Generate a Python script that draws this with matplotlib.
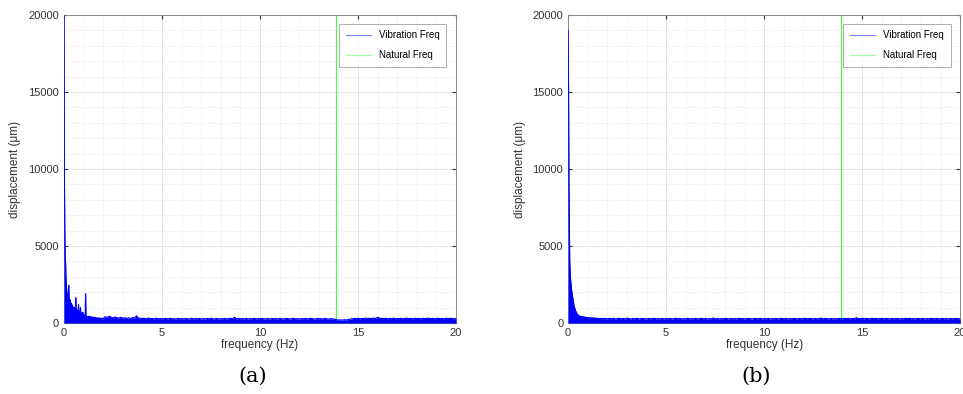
import numpy as np
import matplotlib
matplotlib.use('Agg')
from matplotlib import pyplot as plt
from matplotlib.ticker import MultipleLocator

plt.rcParams['font.family'] = ['Liberation Sans', 'DejaVu Sans']

# 频率网格：0-2 Hz 每 0.02 Hz，2.1-20 Hz 每 0.1 Hz
low_freq = np.round(np.arange(0, 2.001, 0.02), 2)
high_freq = np.round(np.arange(2.1, 20.001, 0.1), 1)

natural_freq = 13.9

# (a) 低频段幅值
low_amp_a = [20000, 9300, 6000, 4200, 3900, 2800, 2400, 2100, 1800, 1900,
             1500, 1700, 2450, 1400, 1600, 1200, 1500, 1100, 1300, 1000,
             1200, 900, 1100, 800, 1000, 900, 750, 1000, 700, 1100,
             1650, 700, 900, 650, 800, 600, 850, 1200, 600, 750,
             550, 700, 1000, 550, 650, 500, 600, 450, 700, 450,
             550, 450, 500, 400, 480, 1900, 420, 450, 380, 430,
             400, 380, 450, 360, 420, 350, 400, 340, 420, 330,
             380, 320, 400, 330, 370, 310, 380, 300, 360, 300,
             350, 290, 340, 300, 330, 280, 340, 290, 320, 280,
             330, 270, 310, 280, 320, 260, 300, 270, 310, 260,
             300]
# (a) 2.1-20 Hz 底噪
high_amp_a = [420, 360, 450, 380, 340, 400, 350, 330, 380, 320,
              350, 300, 340, 310, 360, 330, 480, 300, 320, 290,
              310, 280, 330, 290, 300, 270, 320, 280, 300, 270,
              290, 300, 270, 310, 280, 290, 260, 300, 280, 290,
              270, 300, 280, 260, 310, 270, 290, 280, 300, 260,
              290, 270, 300, 280, 320, 270, 280, 300, 260, 290,
              280, 300, 270, 290, 310, 280, 380, 270, 300, 280,
              290, 270, 300, 260, 290, 280, 310, 270, 290, 280,
              300, 270, 280, 290, 260, 300, 280, 290, 270, 300,
              280, 260, 290, 300, 270, 280, 310, 270, 290, 260,
              290, 280, 300, 270, 290, 310, 280, 260, 300, 280,
              290, 270, 300, 280, 260, 290, 270, 250, 220, 200,
              210, 190, 220, 200, 230, 260, 280, 300, 290, 310,
              280, 300, 290, 320, 300, 310, 290, 330, 300, 380,
              320, 300, 290, 310, 280, 300, 290, 320, 280, 300,
              290, 310, 280, 300, 320, 290, 300, 280, 310, 290,
              300, 280, 310, 290, 300, 320, 290, 310, 280, 300,
              310, 290, 300, 280, 320, 290, 310, 300, 280, 300]

# (b) 低频段幅值
low_amp_b = [19000, 15300, 9000, 6200, 4000, 3400, 2900, 2600, 2300, 2100,
             1900, 1750, 1600, 1400, 1300, 1150, 1050, 950, 900, 800,
             750, 680, 640, 600, 560, 540, 510, 490, 470, 450,
             460, 420, 440, 410, 430, 400, 420, 390, 410, 380,
             400, 370, 390, 360, 380, 350, 370, 340, 360, 330,
             350, 330, 360, 320, 340, 330, 310, 350, 320, 330,
             310, 340, 300, 330, 310, 320, 300, 330, 290, 320,
             300, 310, 290, 320, 300, 310, 280, 310, 290, 300,
             280, 310, 290, 300, 280, 300, 270, 300, 290, 280,
             300, 270, 290, 280, 300, 270, 290, 280, 270, 290,
             280]
# (b) 2.1-20 Hz 底噪
high_amp_b = [300, 280, 320, 270, 290, 310, 280, 300, 270, 330,
              290, 270, 300, 280, 310, 270, 290, 300, 280, 270,
              300, 280, 290, 310, 270, 290, 280, 300, 270, 290,
              280, 300, 270, 290, 320, 280, 300, 270, 290, 280,
              310, 270, 290, 280, 300, 270, 290, 310, 280, 300,
              270, 290, 280, 330, 280, 300, 270, 290, 280, 300,
              290, 270, 300, 280, 290, 270, 310, 280, 300, 270,
              290, 300, 280, 270, 300, 290, 280, 310, 270, 290,
              280, 300, 270, 290, 280, 300, 270, 290, 310, 280,
              300, 270, 290, 280, 300, 290, 270, 300, 280, 290,
              310, 280, 300, 290, 270, 300, 280, 290, 330, 280,
              300, 290, 280, 300, 270, 290, 280, 300, 290, 280,
              300, 290, 310, 280, 300, 290, 350, 300, 290, 310,
              280, 300, 290, 280, 310, 290, 300, 280, 290, 300,
              280, 300, 290, 270, 300, 280, 290, 300, 270, 290,
              280, 300, 290, 310, 280, 290, 270, 300, 290, 280,
              300, 270, 290, 280, 300, 290, 280, 310, 270, 290,
              300, 280, 290, 270, 300, 280, 290, 300, 280, 290]

panels = [
    ('(a)', low_amp_a, high_amp_a),
    ('(b)', low_amp_b, high_amp_b),
]

fig = plt.figure(figsize=(9.63, 3.94), dpi=100)
axes_left = [0.0665, 0.590]

for i, (name, low_amp, high_amp) in enumerate(panels):
    ax = fig.add_axes([axes_left[i], 0.180, 0.407, 0.782])
    freq = np.concatenate([low_freq, high_freq])
    amp = np.concatenate([low_amp, high_amp])

    ax.axvline(natural_freq, color='#55ee55', lw=0.9, label='Natural Freq', zorder=2)
    ax.fill_between(freq, 0, amp, color='#0000ff', lw=0, zorder=3)
    ax.plot(freq, amp, color='#0000ff', lw=0.8, label='Vibration Freq', zorder=3)

    ax.set_xlim(0, 20)
    ax.set_ylim(0, 20000)
    ax.xaxis.set_major_locator(MultipleLocator(5))
    ax.xaxis.set_minor_locator(MultipleLocator(1))
    ax.yaxis.set_major_locator(MultipleLocator(5000))
    ax.yaxis.set_minor_locator(MultipleLocator(1000))
    ax.grid(which='major', color='#e0e0e0', lw=0.6, zorder=0)
    ax.grid(which='minor', color='#dcdcdc', lw=0.5, ls=':', zorder=0)
    ax.set_axisbelow(True)

    ax.tick_params(which='both', direction='in', top=True, right=True,
                   labelsize=8, colors='#333333', length=3)
    ax.tick_params(which='minor', length=0)
    for sp in ax.spines.values():
        sp.set_color('#888888')
        sp.set_linewidth(0.7)

    ax.set_xlabel('frequency (Hz)', fontsize=8.5, color='#333333', labelpad=1)
    ax.set_ylabel('displacement (μm)', fontsize=8.5, color='#333333', labelpad=5)

    handles, labels = ax.get_legend_handles_labels()
    leg = ax.legend(handles[::-1], labels[::-1], loc='upper right', fontsize=7,
                    frameon=True, fancybox=False, edgecolor='#888888',
                    handlelength=2.6, borderpad=0.7, labelspacing=1.0,
                    bbox_to_anchor=(0.988, 0.988))
    leg.get_frame().set_linewidth(0.6)
    for line in leg.get_lines():
        line.set_alpha(0.5)

    fig.text(axes_left[i] + 0.2035 - 0.008, 0.045, name, fontsize=15,
             family='DejaVu Serif', ha='center', va='center')

plt.savefig('out.png', dpi=100)
